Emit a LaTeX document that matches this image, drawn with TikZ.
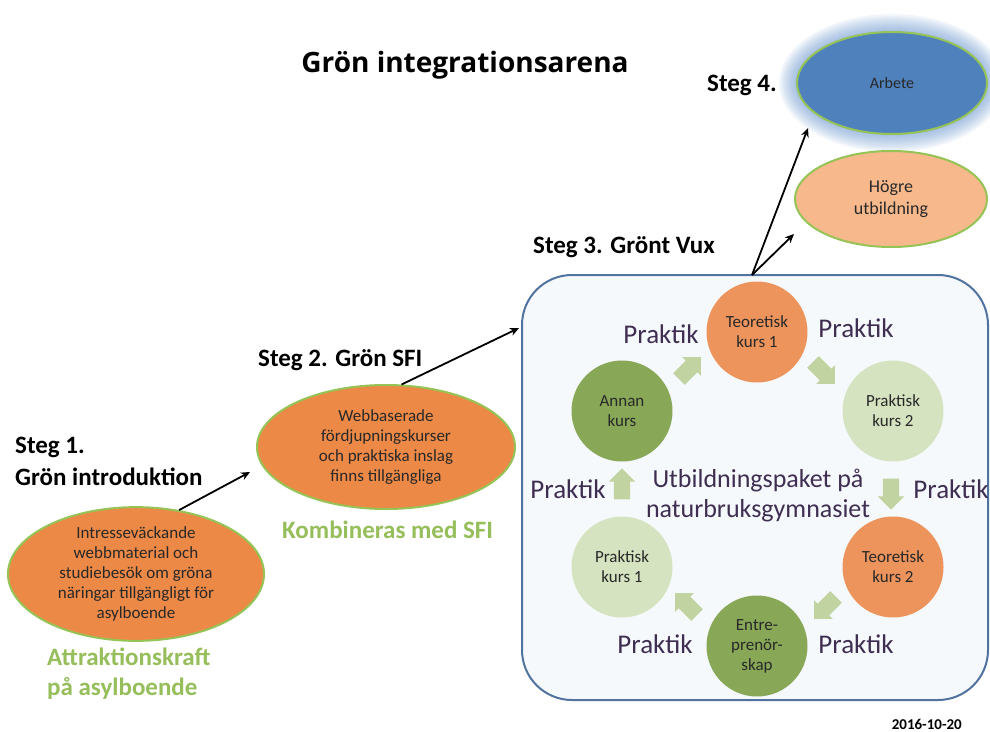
\documentclass[tikz,border=0pt]{standalone}
\usepackage{fontspec}
\setmainfont{Carlito}
\newfontfamily\titlefont{Open Sans}
\usetikzlibrary{shapes.geometric,shapes.arrows,arrows.meta}
\definecolor{orgE}{RGB}{237,137,70}
\definecolor{orgC}{RGB}{236,148,92}
\definecolor{orgL}{RGB}{247,185,140}
\definecolor{blueE}{RGB}{79,129,189}
\definecolor{glowC}{RGB}{90,140,205}
\definecolor{edgeG}{RGB}{150,195,85}
\definecolor{greenC}{RGB}{136,168,88}
\definecolor{lgreenC}{RGB}{214,227,192}
\definecolor{arrG}{RGB}{192,211,160}
\definecolor{boxB}{RGB}{80,115,160}
\definecolor{boxF}{RGB}{246,249,252}
\definecolor{praktC}{RGB}{62,46,82}
\definecolor{labG}{RGB}{150,190,90}
\definecolor{txtD}{RGB}{40,40,40}
\tikzset{
  ell/.style={ellipse, draw=edgeG, line width=2pt, inner sep=0pt, align=center, text=txtD},
  circ/.style={circle, minimum size=101pt, inner sep=0pt, align=center, text=txtD, font=\fontsize{17}{20}\selectfont},
  heading/.style={font=\bfseries\fontsize{25}{30}\selectfont, text=black, inner sep=0pt},
  greenlab/.style={font=\bfseries\fontsize{25}{30}\selectfont, text=labG, inner sep=0pt},
  prakt/.style={font=\fontsize{27}{30}\selectfont, text=praktC, inner sep=0pt, anchor=base},
  blockarr/.style={single arrow, fill=arrG, inner sep=8pt, minimum height=31pt, minimum width=0pt, single arrow head extend=5pt, single arrow head indent=0pt},
  conn/.style={-{Stealth[length=9pt,width=8pt]}, line width=1.8pt, black}
}
\begin{document}
\begin{tikzpicture}[x=1pt,y=-1pt]
\useasboundingbox (0,0) rectangle (990,731);
\fill[white] (0,0) rectangle (990,731);

% title
\node[font=\titlefont\bfseries\fontsize{28}{32}\selectfont, anchor=base, inner sep=0pt] (title) at (465,72) {Grön integrationsarena};

% Steg 4 & outcomes
\node[heading, anchor=base west] (st4) at (707,91) {Steg 4.};
\foreach \i in {18,16,...,2} {
  \fill[glowC, opacity=0.075] (892,83) ellipse ({95+\i} and {51+\i});
}
\node[ell, fill=blueE, minimum width=190pt, minimum height=102pt, font=\fontsize{16}{20}\selectfont] (arbete) at (892,83) {Arbete};
\node[ell, fill=orgL, minimum width=192pt, minimum height=96pt, font=\fontsize{18}{22}\selectfont] (hogre) at (891,199) {Högre\\utbildning};

% Steg 3 box
\node[heading, anchor=base west] (st3) at (533,253) {Steg 3. Grönt Vux};
\node[draw=boxB, fill=boxF, line width=2pt, rounded corners=50pt, minimum width=466pt, minimum height=425pt, inner sep=0pt] (box) at (755,487.5) {};

% cycle
\node[circ, fill=orgC] (teo1) at (757,332) {Teoretisk\\kurs 1};
\node[circ, fill=lgreenC] (prak2) at (893,411) {Praktisk\\kurs 2};
\node[circ, fill=orgC] (teo2) at (893,567) {Teoretisk\\kurs 2};
\node[circ, fill=greenC] (entre) at (757,646) {Entre-\\prenör-\\skap};
\node[circ, fill=lgreenC] (prak1) at (622,567) {Praktisk\\kurs 1};
\node[circ, fill=greenC] (annan) at (622,411) {Annan\\kurs};

\node[blockarr, rotate=45] (a1) at (687,371) {};
\node[blockarr, rotate=-45] (a2) at (821,370) {};
\node[blockarr, rotate=-90] (a3) at (891,490) {};
\node[blockarr, rotate=-135] (a4) at (828,605) {};
\node[blockarr, rotate=135] (a5) at (689,607) {};
\node[blockarr, rotate=90] (a6) at (622,488) {};

\node[prakt] (p1) at (661,343) {Praktik};
\node[prakt] (p2) at (856,337) {Praktik};
\node[prakt] (p3) at (568,498) {Praktik};
\node[prakt] (p4) at (951,498) {Praktik};
\node[prakt] (p5) at (655,653) {Praktik};
\node[prakt] (p6) at (856,653) {Praktik};

\node[font=\fontsize{26}{30}\selectfont, text=praktC, inner sep=0pt, anchor=base] (util1) at (758,487) {Utbildningspaket på};
\node[font=\fontsize{26}{30}\selectfont, text=praktC, inner sep=0pt, anchor=base] (util2) at (758,517) {naturbruksgymnasiet};

% Steg 2
\node[heading, anchor=base west] (st2) at (258,366) {Steg 2. Grön SFI};
\node[ell, fill=orgE, minimum width=258pt, minimum height=124pt, font=\fontsize{17}{20}\selectfont] (s2) at (386,447) {Webbaserade\\fördjupningskurser\\och praktiska inslag\\finns tillgängliga};
\node[greenlab, anchor=base west] (komb) at (282,538) {Kombineras med SFI};

% Steg 1
\node[heading, anchor=base west] (st1a) at (15,453) {Steg 1.};
\node[heading, anchor=base west] (st1b) at (15,485) {Grön introduktion};
\node[ell, fill=orgE, minimum width=256pt, minimum height=124pt, font=\fontsize{17}{20}\selectfont] (s1) at (136,574) {Intresseväckande\\webbmaterial och\\studiebesök om gröna\\näringar tillgängligt för\\asylboende};
\node[greenlab, anchor=base west] (attr1) at (47,665) {Attraktionskraft};
\node[greenlab, anchor=base west] (attr2) at (47,695) {på asylboende};

% date
\node[font=\bfseries\fontsize{15}{18}\selectfont, anchor=base east, inner sep=0pt] (date) at (962,729) {2016-10-20};

% connectors
\coordinate (e1) at (250,472);
\coordinate (e2) at (519,328);
\coordinate (top3) at (752,275);
\coordinate (e3) at (808,128);
\coordinate (e4) at (794,234);
\draw[conn] (s1.56) -- (e1);
\draw[conn] (s2.76) -- (e2);
\draw[conn] (top3) -- (e3);
\draw[conn] (top3) -- (e4);
\end{tikzpicture}
\end{document}
